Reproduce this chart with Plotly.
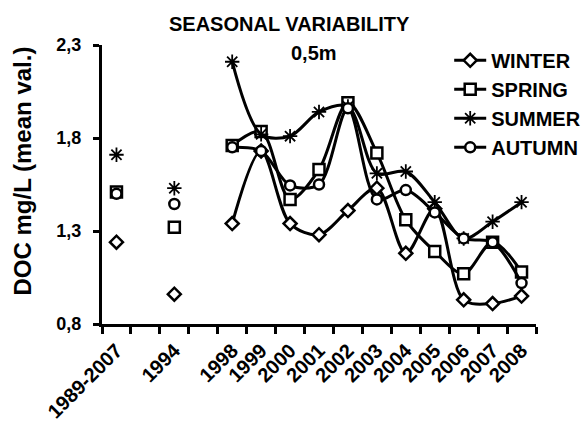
import plotly.graph_objects as go

categories = ["1989-2007", " ", "1994", "  ", "1998", "1999", "2000", "2001",
              "2002", "2003", "2004", "2005", "2006", "2007", "2008"]
tick_labels = ["1989-2007", "", "1994", "", "1998", "1999", "2000", "2001",
               "2002", "2003", "2004", "2005", "2006", "2007", "2008"]

winter = [1.24, None, 0.96, None, 1.34, 1.73, 1.34, 1.28, 1.41, 1.53, 1.18, 1.42, 0.93, 0.91, 0.95]
spring = [1.51, None, 1.32, None, 1.76, 1.835, 1.47, 1.63, 1.99, 1.72, 1.36, 1.19, 1.07, 1.24, 1.08]
summer = [1.71, None, 1.53, None, 2.21, 1.82, 1.81, 1.94, 1.97, 1.61, 1.62, 1.455, 1.26, 1.35, 1.455]
autumn = [1.50, None, 1.445, None, 1.75, 1.73, 1.545, 1.55, 1.96, 1.47, 1.52, 1.40, 1.26, 1.24, 1.02]

series = [
    ("WINTER", winter, "diamond", 10, 2.5),
    ("SPRING", spring, "square", 11, 2.5),
    ("SUMMER", summer, "asterisk-open", 12, 1.8),
    ("AUTUMN", autumn, "circle", 10, 2.5),
]

FONT = "Liberation Sans, Arial, sans-serif"

fig = go.Figure()
for name, vals, sym, size, lw in series:
    fig.add_trace(go.Scatter(
        x=categories, y=vals, name=name, mode="lines+markers",
        connectgaps=False,
        line=dict(color="black", width=3, shape="spline", smoothing=0.9),
        marker=dict(symbol=sym, size=size, color="white" if "open" not in sym else "black",
                    line=dict(color="black", width=lw)),
    ))

fig.update_layout(
    width=582, height=432,
    margin=dict(l=102, r=46, t=45, b=108, autoexpand=False),
    paper_bgcolor="white", plot_bgcolor="white",
    font=dict(family=FONT, color="black", size=18, weight="bold"),
    separators=", ",
    showlegend=True,
    legend=dict(x=0.80, y=1.015, xanchor="left", yanchor="top",
                font=dict(size=20, family=FONT, weight="bold"),
                bgcolor="rgba(0,0,0,0)", itemwidth=32, tracegroupgap=0),
    xaxis=dict(type="category", categoryorder="array", categoryarray=categories,
               tickmode="array", tickvals=categories, ticktext=tick_labels,
               range=[-0.5, 14.5], tickangle=-45, tickson="boundaries",
               ticks="outside", ticklen=7, tickwidth=3, tickcolor="black",
               showline=True, linewidth=3, linecolor="black",
               showgrid=False, zeroline=False, ticklabelstandoff=4,
               tickfont=dict(size=20, family=FONT, weight="bold")),
    yaxis=dict(range=[0.8, 2.3], tickmode="linear", tick0=0.8, dtick=0.5,
               tickformat=".1f", ticks="outside", ticklen=6, tickwidth=3,
               tickcolor="black", showline=True, linewidth=3, linecolor="black",
               showgrid=False, zeroline=False, ticklabelstandoff=8,
               tickfont=dict(size=18, family=FONT, weight="bold")),
    annotations=[
        dict(text="SEASONAL VARIABILITY", x=0.433, y=1.075, xref="paper", yref="paper",
             xanchor="center", yanchor="middle",
             showarrow=False, font=dict(size=20, family=FONT, weight="bold")),
        dict(text="0,5m", x=0.489, y=0.971, xref="paper", yref="paper",
             xanchor="center", yanchor="middle",
             showarrow=False, font=dict(size=20, family=FONT, weight="bold")),
        dict(text="DOC mg/L (mean val.)", x=-0.184, y=0.547, xref="paper", yref="paper",
             xanchor="center", yanchor="middle",
             textangle=-90, showarrow=False, font=dict(size=24, family=FONT, weight="bold")),
    ],
)

fig.write_html("out.html", config={"displayModeBar": False},
               post_script="document.body.style.margin='0';")
